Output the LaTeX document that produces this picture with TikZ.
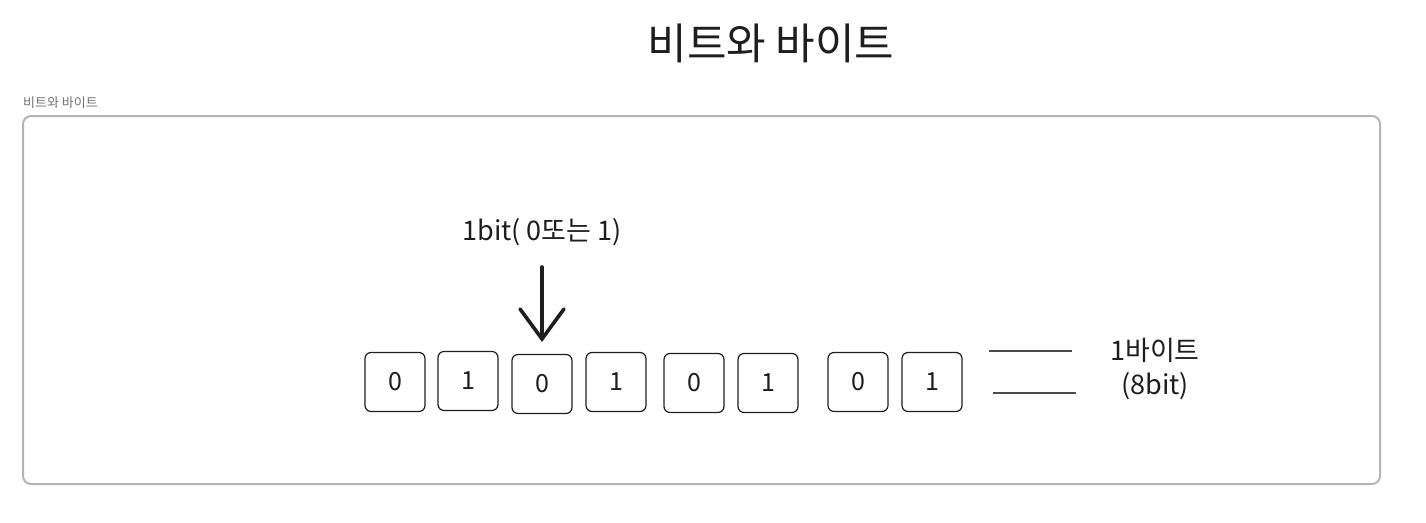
\documentclass[tikz,border=0pt]{standalone}
\usepackage{fontspec}
\setmainfont{Noto Sans CJK KR}
\usetikzlibrary{positioning,arrows.meta}
\definecolor{ink}{HTML}{1E1E1E}
\definecolor{framegray}{HTML}{B4B4B4}
\tikzset{
  bitbox/.style={draw=ink, line width=1.2pt, rounded corners=6pt, minimum width=60pt, minimum height=59pt, text=ink, font=\fontsize{25}{25}\selectfont},
  hand/.style={text=ink, font=\fontsize{27}{34}\selectfont, align=center},
  bitarrow/.style={draw=ink, line width=3.6pt, line cap=round, -{Straight Barb[length=30pt,width=44pt,line cap=round]}},
  byteline/.style={draw=ink!80, line width=1.4pt}
}
\begin{document}
\begin{tikzpicture}[x=1pt, y=-1pt]
      \useasboundingbox (0, 0) rectangle (1426, 522);
      \draw[framegray, line width=2pt, rounded corners=8pt] (23, 116) rectangle (1380, 484);
      \draw (771, 43) node (title) [text=ink, font=\fontsize{43}{44}\selectfont] {비트와 바이트}
            (23, 103) node (caption) [anchor=west, inner sep=0pt, text=black!55, font=\fontsize{13}{14}\selectfont] {비트와 바이트};
      \draw (395, 382) node (b1) [bitbox] {0}
            (468, 381) node (b2) [bitbox] {1}
            (542, 384) node (b3) [bitbox] {0}
            (616, 382) node (b4) [bitbox] {1}
            (694, 383) node (b5) [bitbox] {0}
            (768, 383) node (b6) [bitbox] {1}
            (858, 382) node (b7) [bitbox] {0}
            (932, 382) node (b8) [bitbox] {1};
      \draw (542, 232) node (bitlbl) [hand] {1bit( 0또는 1)}
            (1155, 369) node (bytelbl) [hand] {1바이트\\(8bit)};
      \draw[bitarrow] ([yshift=-35pt]bitlbl.center) -- ([yshift=42pt]b3.center);
      \coordinate (topa) at (989, 351);
      \coordinate (topb) at (1072, 351);
      \coordinate (bota) at (993, 393);
      \coordinate (botb) at (1076, 393);
      \draw[byteline] (topa) -- (topb)
                      (bota) -- (botb);
\end{tikzpicture}
\end{document}
